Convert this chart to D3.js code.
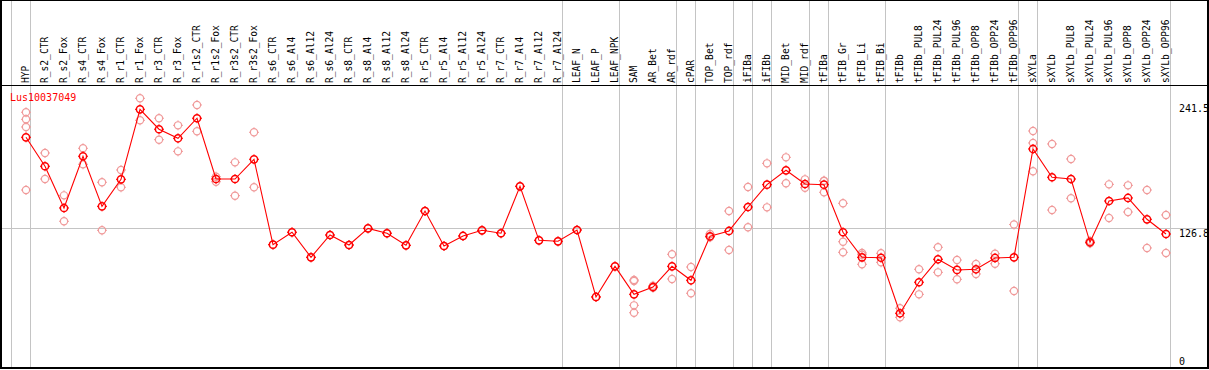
<!DOCTYPE html>
<html>
<head>
<meta charset="utf-8">
<script src="https://cdn.jsdelivr.net/npm/d3@7"></script>
<style>
  html, body { margin: 0; padding: 0; background: #fff; }
  svg { display: block; }
  text { font-family: "DejaVu Sans Mono", monospace; font-size: 10px; }
  text.col { font-size: 9.6px; }
</style>
</head>
<body>
<div id="chart"></div>
<script>
// Expression profile of one gene across tissues / treatments.
const geneName = "Lus10037049";

const categories = [
  "HYP", "R_s2_CTR", "R_s2_Fox", "R_s4_CTR", "R_s4_Fox", "R_r1_CTR", "R_r1_Fox",
  "R_r3_CTR", "R_r3_Fox", "R_r1s2_CTR", "R_r1s2_Fox", "R_r3s2_CTR", "R_r3s2_Fox",
  "R_s6_CTR", "R_s6_Al4", "R_s6_Al12", "R_s6_Al24", "R_s8_CTR", "R_s8_Al4",
  "R_s8_Al12", "R_s8_Al24", "R_r5_CTR", "R_r5_Al4", "R_r5_Al12", "R_r5_Al24",
  "R_r7_CTR", "R_r7_Al4", "R_r7_Al12", "R_r7_Al24", "LEAF_N", "LEAF_P", "LEAF_NPK",
  "SAM", "AR_Bet", "AR_rdf", "cPAR", "TOP_Bet", "TOP_rdf", "iFIBa", "iFIBb",
  "MID_Bet", "MID_rdf", "tFIBa", "tFIB_Gr", "tFIB_Li", "tFIB_Bi", "tFIBb",
  "tFIBb_PUL8", "tFIBb_PUL24", "tFIBb_PUL96", "tFIBb_OPP8", "tFIBb_OPP24", "tFIBb_OPP96",
  "sXYLa", "sXYLb", "sXYLb_PUL8", "sXYLb_PUL24", "sXYLb_PUL96", "sXYLb_OPP8",
  "sXYLb_OPP24", "sXYLb_OPP96"
];

// gray separator lines sit after these columns
const groupEnds = ["HYP", "R_r7_Al24", "LEAF_NPK", "AR_rdf", "cPAR", "TOP_rdf", "iFIBa",
  "iFIBb", "MID_rdf", "tFIBa", "tFIB_Bi", "tFIBb_OPP96", "sXYLa", "sXYLb_OPP96"];

const means = [
  210.0, 183.4, 145.1, 192.6, 146.6, 171.4, 235.7, 217.4, 209.1, 227.5, 171.7, 171.7, 189.8,
  111.4, 122.8, 99.8, 120.3, 111.1, 126.4, 121.9, 110.8, 142.3, 110.2, 119.4, 124.6,
  121.9, 165.0, 115.4, 114.5, 124.9, 63.4, 91.5,
  65.8, 72.5, 91.5, 78.7, 119.1, 124.0, 146.0, 166.5, 179.7, 167.1, 166.5, 122.8, 99.8, 99.4,
  48.4, 76.9, 98.0, 88.2, 88.8, 99.2, 99.8,
  199.3, 173.3, 171.7, 113.6, 151.5, 154.3, 134.7, 121.2
];

const replicates = [
  [233.0, 226.5, 219.5, 161.6], [195.6, 171.7], [156.7, 132.9], [199.9, 185.2],
  [168.7, 124.6], [180.0, 164.1], [245.8, 225.6], [227.5, 207.8], [221.0, 197.1],
  [239.7, 215.5], [173.8, 169.2], [187.0, 156.4], [214.6, 164.1],
  [111.4], [122.8], [99.8], [120.3], [111.1], [126.4], [121.9], [110.8],
  [142.3], [110.2], [119.4], [124.6], [121.9], [165.0], [115.4], [114.5],
  [124.9], [63.4], [91.5],
  [79.0, 78.1, 55.7, 48.9], [73.7, 71.9], [102.6, 79.9], [90.9, 66.8], [121.2, 118.2],
  [142.3, 106.5], [164.4, 127.4], [186.1, 145.7], [191.6, 167.8], [171.4, 163.7],
  [170.2, 159.5, 169.8], [149.4, 114.1, 104.4], [102.2, 93.4, 103.8], [103.5, 95.2],
  [53.0, 44.7], [88.8, 65.8], [109.0, 86.0], [97.3, 79.6], [93.7, 84.5], [103.1, 93.9],
  [129.9, 68.9],
  [215.8, 204.8, 178.8], [203.9, 143.2], [190.1, 154.0], [114.8, 112.7], [166.8, 135.9],
  [165.9, 141.4], [161.6, 108.4], [138.7, 103.8]
];

const tickLabels = [241.5, 126.8, 0];
const refLine = 126.8;

const W = 1209, H = 370;
const headerY = 85, bottomY = 368;

const svg = d3.select("#chart").append("svg")
  .attr("width", W).attr("height", H)
  .attr("shape-rendering", "crispEdges");

const x = d3.scaleBand().domain(categories).range([11, 11 + 19 * categories.length]).padding(0);
const px = (c) => x(c) + 15;
const y = d3.scaleLinear().domain([0, 241.5]).range([366, 103]);

// gray column separators
const sepX = [x(categories[0])].concat(groupEnds.map((c) => x(c) + x.bandwidth()));
svg.append("g").selectAll("line").data(sepX).join("line")
  .attr("x1", (d) => d + 0.5).attr("x2", (d) => d + 0.5)
  .attr("y1", 0).attr("y2", bottomY)
  .attr("stroke", "#c4c4c4").attr("stroke-width", 1);

// reference line
svg.append("line")
  .attr("x1", 0).attr("x2", W)
  .attr("y1", Math.round(y(refLine)) + 0.5).attr("y2", Math.round(y(refLine)) + 0.5)
  .attr("stroke", "#c4c4c4");

// frame + header separator
svg.append("rect")
  .attr("x", 1).attr("y", 0).attr("width", W - 2).attr("height", bottomY)
  .attr("fill", "none").attr("stroke", "#000").attr("stroke-width", 2);
svg.append("line")
  .attr("x1", 0).attr("x2", W).attr("y1", headerY + 0.5).attr("y2", headerY + 0.5)
  .attr("stroke", "#000").attr("stroke-width", 1.5);

// column labels
svg.append("g").selectAll("text").data(categories).join("text")
  .attr("class", "col")
  .attr("transform", (d) => `translate(${px(d) + 3},83) rotate(-90)`)
  .attr("fill", "#000")
  .text((d) => d);

// right-hand value labels
svg.append("g").selectAll("text").data(tickLabels).join("text")
  .attr("x", 1179)
  .attr("y", (d) => Math.min(y(d) + 9, 365))
  .attr("fill", "#000")
  .text((d) => d);

svg.append("text")
  .attr("x", 10).attr("y", 101)
  .attr("fill", "#ff0000")
  .text(geneName);

// small circle marker with tick nubs
function marker(g, color, width) {
  g.append("circle").attr("r", 3.6).attr("fill", "none")
    .attr("stroke", color).attr("stroke-width", width)
    .attr("shape-rendering", "auto");
  [[0, -1], [0, 1], [-1, 0], [1, 0]].forEach(([dx, dy]) => {
    g.append("line")
      .attr("x1", dx * 3.6).attr("y1", dy * 3.6)
      .attr("x2", dx * 5).attr("y2", dy * 5)
      .attr("stroke", color).attr("stroke-width", 1)
      .attr("shape-rendering", "auto");
  });
}

const repData = [];
replicates.forEach((arr, i) => arr.forEach((v) => repData.push({ c: categories[i], v })));

svg.append("g").selectAll("g").data(repData).join("g")
  .attr("transform", (d) => `translate(${px(d.c)},${y(d.v)})`)
  .each(function () { marker(d3.select(this), "#f09a9a", 1.2); });

const line = d3.line().x((d, i) => px(categories[i])).y((d) => y(d));
svg.append("path").datum(means)
  .attr("d", line)
  .attr("fill", "none").attr("stroke", "#ff0000").attr("stroke-width", 1.1)
  .attr("shape-rendering", "auto");

svg.append("g").selectAll("g").data(means).join("g")
  .attr("transform", (d, i) => `translate(${px(categories[i])},${y(d)})`)
  .each(function () { marker(d3.select(this), "#ff0000", 1.5); });
</script>
</body>
</html>
